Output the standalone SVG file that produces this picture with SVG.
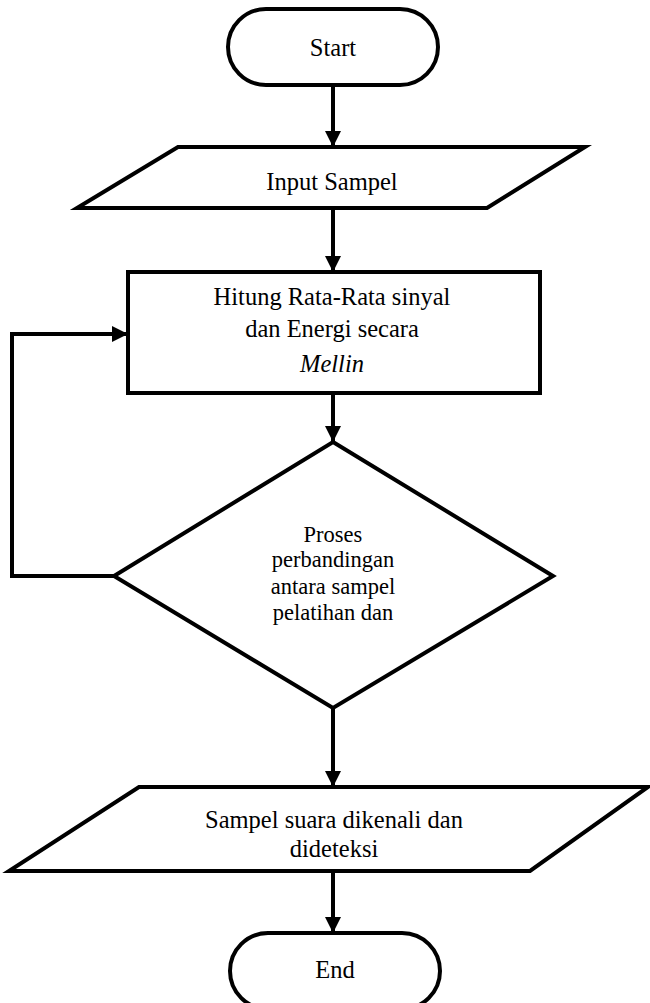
<svg xmlns="http://www.w3.org/2000/svg" width="650" height="1003" viewBox="0 0 650 1003">
<style>
.shape{fill:#fff;stroke:#000;stroke-width:4;stroke-linejoin:miter}
.conn{fill:none;stroke:#000;stroke-width:4}
text{font-family:"Liberation Serif","Times New Roman",serif;font-size:24.5px;fill:#000;text-anchor:middle}
.small{font-size:22.5px}
.it{font-style:italic}
</style>
<defs>
<marker id="arr" markerUnits="userSpaceOnUse" markerWidth="16" markerHeight="16" viewBox="0 0 16 16" refX="16" refY="8" orient="auto">
<path d="M0,0 L16,8 L0,16 Z" fill="#000"/>
</marker>
</defs>
<g id="connectors">
<line class="conn" x1="333" y1="85" x2="333" y2="147" marker-end="url(#arr)"/>
<line class="conn" x1="333" y1="208" x2="333" y2="272" marker-end="url(#arr)"/>
<line class="conn" x1="333" y1="393" x2="333" y2="442" marker-end="url(#arr)"/>
<line class="conn" x1="333" y1="708" x2="333" y2="787" marker-end="url(#arr)"/>
<line class="conn" x1="333" y1="871" x2="333" y2="933" marker-end="url(#arr)"/>
<polyline class="conn" points="114,576 12,576 12,334 128,334" marker-end="url(#arr)"/>
</g>
<g id="start">
<rect class="shape" x="228" y="9" width="210" height="76" rx="38" ry="38"/>
<text x="333" y="56">Start</text>
</g>
<g id="input">
<polygon class="shape" points="178,147 585,147 487,208 77,208"/>
<text x="332" y="190">Input Sampel</text>
</g>
<g id="process">
<rect class="shape" x="128" y="272" width="412" height="121"/>
<text x="332" y="305">Hitung Rata-Rata sinyal</text>
<text x="332" y="337">dan Energi secara</text>
<text x="332" y="372" class="it">Mellin</text>
</g>
<g id="decision">
<polygon class="shape" points="333,442 553,576 333,708 114,576"/>
<text class="small" x="333" y="542">Proses</text>
<text class="small" x="333" y="567">perbandingan</text>
<text class="small" x="333" y="594">antara sampel</text>
<text class="small" x="333" y="620">pelatihan dan</text>
</g>
<g id="output">
<polygon class="shape" points="139,787 648,787 530,871 9,871"/>
<text x="334" y="828">Sampel suara dikenali dan</text>
<text x="334" y="857">dideteksi</text>
</g>
<g id="end">
<rect class="shape" x="230" y="933" width="210" height="76" rx="38" ry="38"/>
<text x="335" y="978">End</text>
</g>
</svg>
